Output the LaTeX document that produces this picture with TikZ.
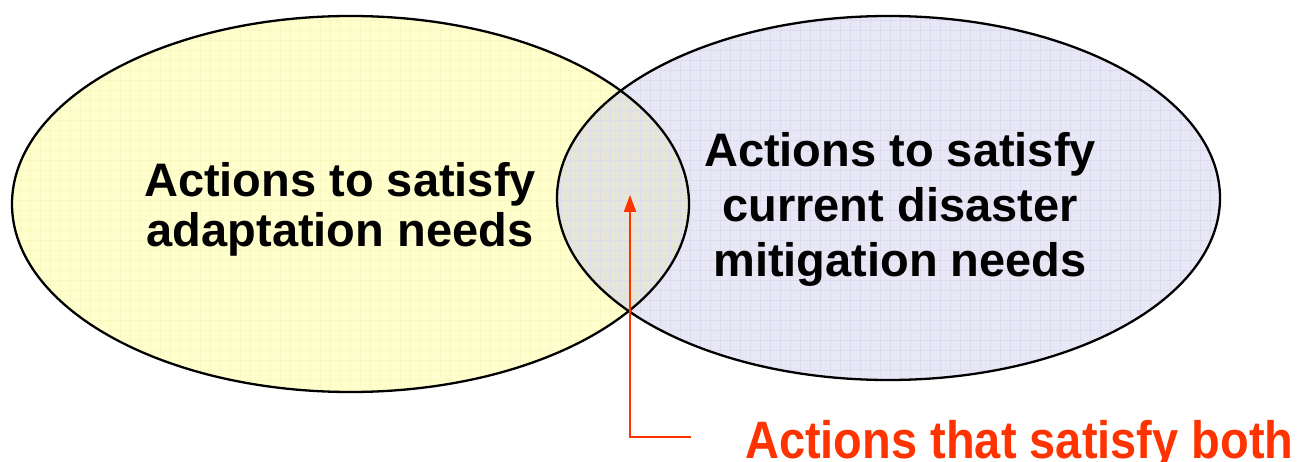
\documentclass[tikz,border=0pt]{standalone}
\usepackage{fontspec}
\setmainfont{Liberation Sans}
\usetikzlibrary{arrows.meta}
\definecolor{yel}{RGB}{255,255,206}
\definecolor{yelgrid}{RGB}{248,248,192}
\definecolor{lav}{RGB}{231,231,245}
\definecolor{lavgrid}{RGB}{220,220,238}
\definecolor{lensc}{RGB}{230,230,214}
\definecolor{redor}{RGB}{255,51,0}
\begin{document}
\begin{tikzpicture}[x=1pt,y=-1pt,
  setline/.style={draw=black,line width=2.3pt},
  label/.style={inner sep=0pt,align=center},
  redlabel/.style={inner sep=0pt,text=redor,font=\fontsize{47}{54}\selectfont\bfseries},
  gridline/.style={line width=0.7pt},
  pointer/.style={draw=redor,line width=2pt,-{Triangle[width=12pt,length=17pt]}}]
\useasboundingbox (0,0) rectangle (1297,462);
% fills
\fill[yel] (350.5,204) ellipse [x radius=338.5, y radius=188];
\begin{scope}
  \clip (350.5,204) ellipse [x radius=338.5, y radius=188];
  \foreach \gx in {10,20,...,700} {\draw[gridline,yelgrid] (\gx,10) -- (\gx,400);}
  \foreach \gy in {10,20,...,400} {\draw[gridline,yelgrid] (10,\gy) -- (700,\gy);}
\end{scope}
\fill[lav] (888.5,198) ellipse [x radius=331.5, y radius=182];
\begin{scope}
  \clip (888.5,198) ellipse [x radius=331.5, y radius=182];
  \fill[lensc] (350.5,204) ellipse [x radius=338.5, y radius=188];
  \foreach \gx in {550,560,...,1230} {\draw[gridline,lavgrid] (\gx,10) -- (\gx,390);}
  \foreach \gy in {10,20,...,390} {\draw[gridline,lavgrid] (550,\gy) -- (1230,\gy);}
\end{scope}
% outlines
\draw[setline] (350.5,204) ellipse [x radius=338.5, y radius=188];
\draw[setline] (888.5,198) ellipse [x radius=331.5, y radius=182];
% texts (base anchor = baseline of last line)
\node[label,font=\fontsize{47}{50}\selectfont\bfseries,anchor=base] (adapt) at (340,246.7)
  {Actions to satisfy\\adaptation needs};
\node[label,font=\fontsize{47}{55}\selectfont\bfseries,anchor=base] (mitig) at (900,276.7)
  {Actions to satisfy\\current disaster\\mitigation needs};
\node[redlabel,anchor=base west] (both) at (745,458) {\scalebox{1}[1.12]{Actions that satisfy both}};
% pointer
\coordinate (corner) at (691,437);
\coordinate (tip) at (630,195);
\draw[pointer] (corner) -| (tip);
\end{tikzpicture}
\end{document}
